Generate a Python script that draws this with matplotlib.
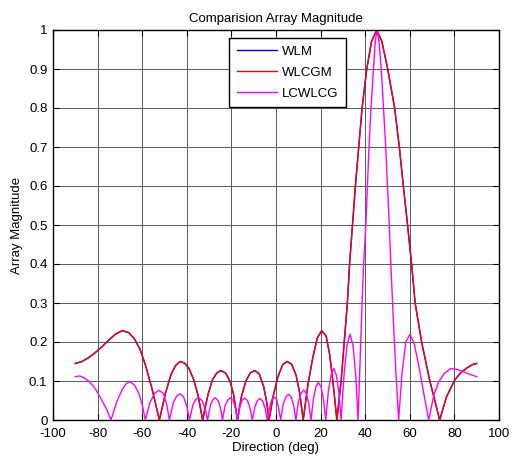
import numpy as np
import matplotlib
matplotlib.use("Agg")
import matplotlib.pyplot as plt

plt.rcParams['font.family'] = ['Liberation Sans', 'DejaVu Sans']
plt.rcParams['axes.unicode_minus'] = False

# WLM and WLCGM lie on top of each other
wlm_deg = [-90, -87, -84, -81, -78, -75, -72, -69, -66, -63.5, -61, -58.5, -55.5, -52.3,
           -49.5, -47, -45, -43, -41, -39, -37, -35, -32.9,
           -30.5, -28.5, -26.5, -24.7, -22.5, -20.5, -19, -17.3,
           -15.5, -13.5, -11.5, -9.5, -7.5, -5.5, -4.3, -3.1,
           -1.3, 0.8, 3.0, 5.0, 7.0, 9.0, 10.6, 12.2,
           14.3, 16.5, 18.5, 20.5, 22.5, 24.0, 25.5, 27.3,
           29.2, 30.6, 32.0, 33.0, 34.3, 35.6, 37.1, 38.6, 40.7, 42.8, 45.2,
           47.5, 50.1, 53.2, 55.3, 57.1, 59.0, 60.8, 62.4, 65.3, 69.0, 73.4,
           76.5, 80.2, 83, 86, 88.5, 90]
wlm_val = [0.145, 0.150, 0.160, 0.173, 0.188, 0.205, 0.220, 0.229, 0.224, 0.208, 0.182, 0.140, 0.078, 0.0,
           0.070, 0.118, 0.140, 0.150, 0.146, 0.132, 0.105, 0.065, 0.0,
           0.065, 0.103, 0.121, 0.127, 0.120, 0.097, 0.065, 0.0,
           0.060, 0.100, 0.121, 0.127, 0.118, 0.085, 0.050, 0.0,
           0.060, 0.110, 0.142, 0.150, 0.143, 0.115, 0.070, 0.0,
           0.090, 0.160, 0.210, 0.229, 0.215, 0.170, 0.100, 0.0,
           0.10, 0.20, 0.30, 0.40, 0.50, 0.60, 0.70, 0.80, 0.90, 0.97, 1.0,
           0.97, 0.90, 0.80, 0.70, 0.60, 0.50, 0.40, 0.30, 0.20, 0.10, 0.0,
           0.060, 0.103, 0.122, 0.135, 0.143, 0.145]
wlcgm_deg = list(wlm_deg)
wlcgm_val = list(wlm_val)

lc_deg = [-90, -88, -86, -83.6, -81, -78.5, -76, -74.0,
          -71.5, -69, -67, -65.5, -63.5, -61.5, -60, -58.6,
          -56.5, -54.5, -52.5, -50.5, -49, -47.8,
          -46, -44.5, -43.0, -41.5, -40, -38.8,
          -37.2, -35.8, -34.7, -33.2, -31.8, -30.7,
          -29.3, -28.2, -27.2, -25.8, -24.8, -24.0,
          -22.8, -21.5, -20.5, -19.2, -18.2, -17.3,
          -16.2, -15.2, -14.2, -12.8, -11.6, -10.6,
          -9.4, -8.3, -7.2, -5.9, -4.8, -3.9,
          -2.8, -1.8, -0.9, 0.3, 1.2, 2.1,
          3.2, 4.5, 5.7, 6.9, 8.0, 8.9,
          10.0, 11.2, 12.4, 13.6, 14.7, 15.7,
          16.8, 17.9, 19.0, 20.2, 21.3, 22.3,
          23.5, 24.7, 25.9, 27.1, 28.2, 29.2,
          30.5, 31.8, 33.2, 34.6, 35.8, 36.8,
          37.8, 38.6, 39.3, 40.3, 41.0, 41.7, 42.6, 43.7, 44.5, 45.3,
          46.2, 47.2, 48.2, 49.2, 50.0, 50.8, 51.5, 52.5, 53.8, 55.0,
          56.5, 58.2, 60.1, 62.0, 64.0, 66.2, 68.5,
          70.8, 73.0, 75.5, 78.5, 81, 84, 87, 90]
lc_val = [0.111, 0.113, 0.108, 0.098, 0.080, 0.055, 0.028, 0.0,
          0.045, 0.078, 0.094, 0.098, 0.090, 0.068, 0.040, 0.0,
          0.045, 0.068, 0.076, 0.068, 0.040, 0.0,
          0.045, 0.062, 0.067, 0.060, 0.035, 0.0,
          0.040, 0.054, 0.057, 0.050, 0.030, 0.0,
          0.040, 0.053, 0.057, 0.048, 0.028, 0.0,
          0.038, 0.052, 0.057, 0.050, 0.030, 0.0,
          0.035, 0.050, 0.056, 0.050, 0.030, 0.0,
          0.035, 0.050, 0.055, 0.048, 0.028, 0.0,
          0.035, 0.053, 0.059, 0.053, 0.030, 0.0,
          0.040, 0.060, 0.066, 0.058, 0.035, 0.0,
          0.045, 0.068, 0.077, 0.068, 0.042, 0.0,
          0.055, 0.085, 0.096, 0.085, 0.052, 0.0,
          0.075, 0.115, 0.132, 0.115, 0.070, 0.0,
          0.115, 0.190, 0.220, 0.190, 0.110, 0.0,
          0.17, 0.30, 0.40, 0.50, 0.60, 0.70, 0.80, 0.90, 0.97, 1.0,
          0.97, 0.90, 0.80, 0.70, 0.60, 0.50, 0.40, 0.27, 0.12, 0.0,
          0.12, 0.20, 0.220, 0.195, 0.140, 0.070, 0.0,
          0.065, 0.098, 0.120, 0.132, 0.130, 0.124, 0.117, 0.111]

x_ticks = list(range(-100, 101, 20))
y_ticks = [0, 0.1, 0.2, 0.3, 0.4, 0.5, 0.6, 0.7, 0.8, 0.9, 1]
y_labels = ['0', '0.1', '0.2', '0.3', '0.4', '0.5', '0.6', '0.7', '0.8', '0.9', '1']

fig = plt.figure(figsize=(5.13, 4.65), dpi=100)
ax = fig.add_axes([53/513, 1 - 420/465, 446/513, 390/465])

ax.plot(wlm_deg, wlm_val, color='#0000ff', lw=1.0, label='WLM')
ax.plot(wlcgm_deg, wlcgm_val, color='#ff0000', lw=1.0, label='WLCGM')
ax.plot(lc_deg, lc_val, color='#ff00ff', lw=1.0, label='LCWLCG')

ax.set_xlim(-100, 100)
ax.set_ylim(0, 1)
ax.set_xticks(x_ticks)
ax.set_yticks(y_ticks)
ax.set_yticklabels(y_labels)
ax.tick_params(direction='in', top=True, right=True, labelsize=9.5, length=4, width=0.8)
ax.tick_params(axis='x', pad=6)
ax.tick_params(axis='y', pad=4)
ax.grid(True, color='0.35', lw=0.7)
for s in ax.spines.values():
    s.set_linewidth(1.0)

ax.set_title('Comparision Array Magnitude', fontsize=9.5, pad=6)
ax.set_xlabel('Direction (deg)', fontsize=9.5, labelpad=1)
ax.set_ylabel('Array Magnitude', fontsize=9.5, labelpad=4)

leg = ax.legend(loc='upper left', bbox_to_anchor=(0.395, 0.98), borderaxespad=0,
                fontsize=9.5, fancybox=False, framealpha=1, edgecolor='black',
                handlelength=3.0, handletextpad=0.4, borderpad=0.6, labelspacing=0.65)
leg.get_frame().set_linewidth(1.0)

fig.savefig('out.png', dpi=100)
